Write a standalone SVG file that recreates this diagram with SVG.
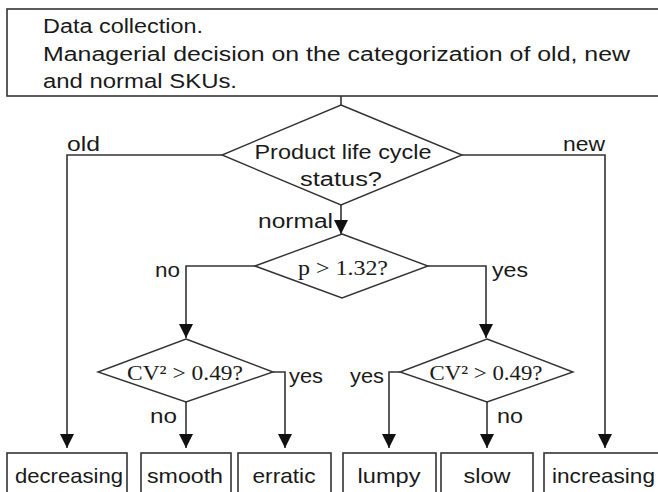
<svg xmlns="http://www.w3.org/2000/svg" width="658" height="492" viewBox="0 0 658 492">
<defs>
<marker id="ah" markerUnits="userSpaceOnUse" viewBox="0 0 14 16" markerWidth="14" markerHeight="16" refX="14" refY="7" orient="auto">
<path d="M0,0 L14,7 L0,14 Z" fill="#111"/>
</marker>
<style>
.box{fill:#fff;stroke:#333;stroke-width:1.6}
.dia{fill:#fff;stroke:#333;stroke-width:1.4}
.ln{fill:none;stroke:#333;stroke-width:1.6}
.arr{fill:none;stroke:#333;stroke-width:1.6;marker-end:url(#ah)}
.t{font-family:"Liberation Sans",Arial,sans-serif;font-size:20px;fill:#1a1a1a}
.b{font-size:21px}
.s{font-family:"Liberation Serif","Times New Roman",serif;font-size:21px;fill:#1a1a1a}
.c{text-anchor:middle}
</style>
</defs>
<rect width="658" height="492" fill="#fff"/>
<g id="connectors">
<path class="ln" d="M341,96 V105"/>
<path class="arr" d="M222,155 H67 V448"/>
<path class="arr" d="M462,155 H605 V448"/>
<path class="arr" d="M341,205 V234"/>
<path class="arr" d="M255,266 H186 V338"/>
<path class="arr" d="M428,266 H486 V338"/>
<path class="arr" d="M273,372 H285 V448"/>
<path class="arr" d="M186,402 V448"/>
<path class="arr" d="M400,372 H389 V448"/>
<path class="arr" d="M487,402 V448"/>
</g>
<g id="labels">
<text class="t" x="67" y="151" textLength="33" lengthAdjust="spacingAndGlyphs">old</text>
<text class="t" x="563" y="151" textLength="42" lengthAdjust="spacingAndGlyphs">new</text>
<text class="t" x="258" y="228" textLength="75" lengthAdjust="spacingAndGlyphs">normal</text>
<text class="t" x="155" y="277" textLength="25" lengthAdjust="spacingAndGlyphs">no</text>
<text class="t" x="492" y="277" textLength="36" lengthAdjust="spacingAndGlyphs">yes</text>
<text class="t" x="289" y="383" textLength="34" lengthAdjust="spacingAndGlyphs">yes</text>
<text class="t" x="350" y="383" textLength="34" lengthAdjust="spacingAndGlyphs">yes</text>
<text class="t" x="150" y="423" textLength="27" lengthAdjust="spacingAndGlyphs">no</text>
<text class="t" x="497" y="423" textLength="26" lengthAdjust="spacingAndGlyphs">no</text>
</g>
<g id="start">
<rect class="box" x="7" y="9" width="665" height="87"/>
<text class="t" x="43" y="33" textLength="160" lengthAdjust="spacingAndGlyphs">Data collection.</text>
<text class="t" x="43" y="61" textLength="587" lengthAdjust="spacingAndGlyphs">Managerial decision on the categorization of old, new</text>
<text class="t" x="43" y="88" textLength="194" lengthAdjust="spacingAndGlyphs">and normal SKUs.</text>
</g>
<g id="status">
<polygon class="dia" points="341,105 462,155 341,205 222,155"/>
<text class="t c" x="343" y="159" textLength="177" lengthAdjust="spacingAndGlyphs">Product life cycle</text>
<text class="t c" x="341" y="186" textLength="82" lengthAdjust="spacingAndGlyphs">status?</text>
</g>
<g id="p">
<polygon class="dia" points="342,234 428,266 342,298 255,266"/>
<text class="s c" x="343" y="275" textLength="90" lengthAdjust="spacingAndGlyphs">p &gt; 1.32?</text>
</g>
<g id="cv-left">
<polygon class="dia" points="186,339 273,372 186,402 98,372"/>
<text class="s c" x="185" y="380" textLength="116" lengthAdjust="spacingAndGlyphs">CV² &gt; 0.49?</text>
</g>
<g id="cv-right">
<polygon class="dia" points="487,339 573,372 487,402 400,372"/>
<text class="s c" x="486" y="380" textLength="113" lengthAdjust="spacingAndGlyphs">CV² &gt; 0.49?</text>
</g>
<g id="decreasing">
<rect class="box" x="7" y="453" width="120" height="50"/>
<text class="t b c" x="69" y="483" textLength="108" lengthAdjust="spacingAndGlyphs">decreasing</text>
</g>
<g id="smooth">
<rect class="box" x="141" y="453" width="90" height="50"/>
<text class="t b c" x="185" y="483" textLength="76" lengthAdjust="spacingAndGlyphs">smooth</text>
</g>
<g id="erratic">
<rect class="box" x="238" y="453" width="93" height="50"/>
<text class="t b c" x="284" y="483" textLength="63" lengthAdjust="spacingAndGlyphs">erratic</text>
</g>
<g id="lumpy">
<rect class="box" x="343" y="453" width="93" height="50"/>
<text class="t b c" x="389" y="483" textLength="63" lengthAdjust="spacingAndGlyphs">lumpy</text>
</g>
<g id="slow">
<rect class="box" x="441" y="453" width="92" height="50"/>
<text class="t b c" x="487" y="483" textLength="47" lengthAdjust="spacingAndGlyphs">slow</text>
</g>
<g id="increasing">
<rect class="box" x="544" y="453" width="125" height="50"/>
<text class="t b" x="552" y="483" textLength="103" lengthAdjust="spacingAndGlyphs">increasing</text>
</g>
</svg>
